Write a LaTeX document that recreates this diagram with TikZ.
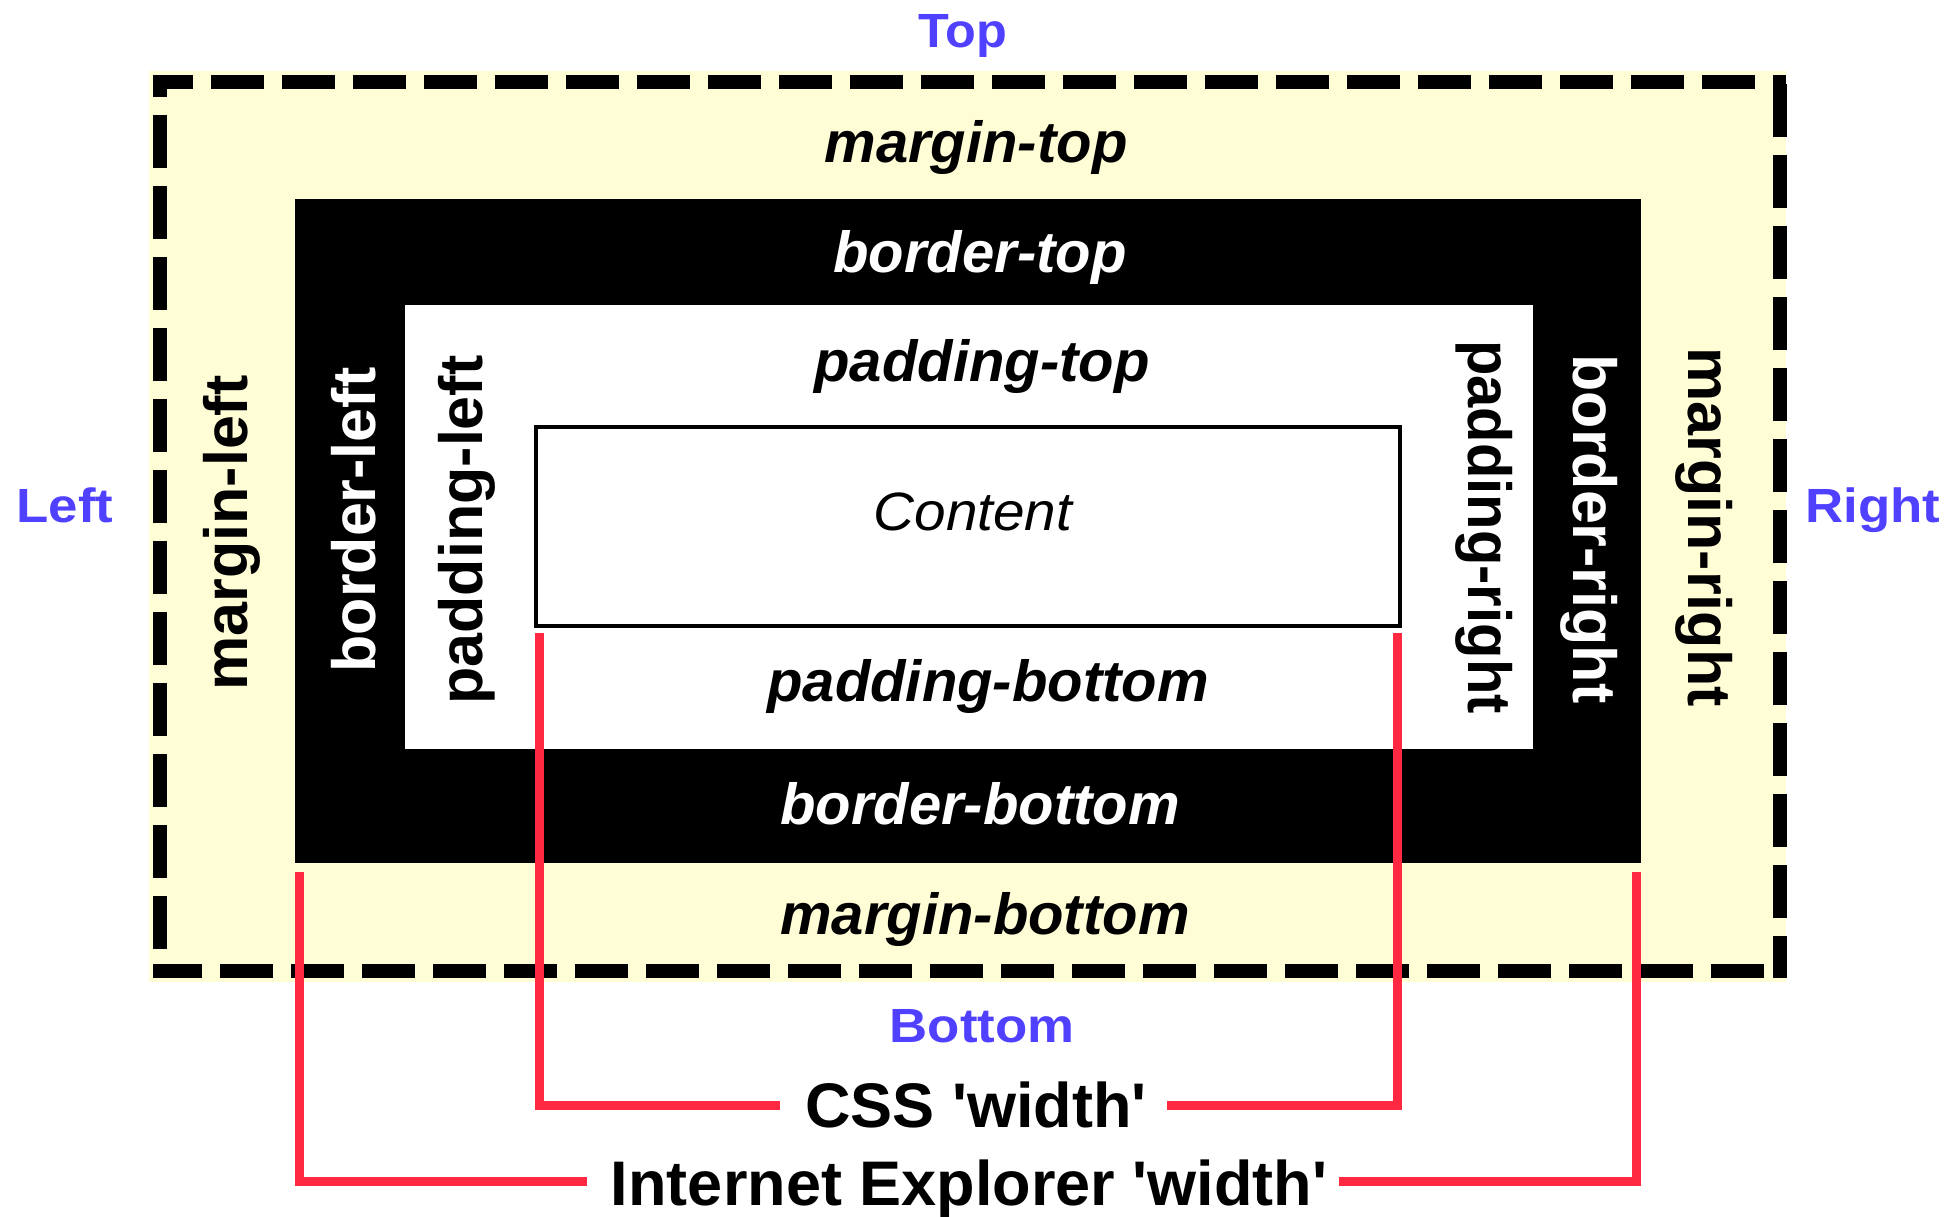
\documentclass[tikz,border=0pt]{standalone}
\usepackage{fontspec}
\usepackage{graphicx}
\setmainfont{Liberation Sans}[Ligatures=TeXOff]
\definecolor{marg}{RGB}{255,253,214}
\definecolor{redl}{RGB}{255,41,66}
\definecolor{bluel}{RGB}{80,64,255}
\tikzset{
 vlab/.style={font=\fontsize{61}{61}\selectfont\bfseries, inner sep=0pt, anchor=base},
 hlab/.style={font=\fontsize{58}{58}\selectfont\bfseries\itshape, inner sep=0pt, anchor=base},
 sidelab/.style={font=\fontsize{48}{48}\selectfont\bfseries, text=bluel, inner sep=0pt, anchor=base},
 wlab/.style={font=\fontsize{63}{63}\selectfont\bfseries, inner sep=0pt, anchor=base},
 redline/.style={draw=redl, line width=9pt},
 dashb/.style={line width=14pt, dash pattern=on 53pt off 18pt},
}
\begin{document}
\begin{tikzpicture}[x=1pt,y=-1pt]
\useasboundingbox (0,0) rectangle (1951,1217);
% boxes
\fill[marg] (149,71) rectangle (1786,982);
\fill[black] (295,199) rectangle (1641,863);
\fill[white] (405,305) rectangle (1533,749);
\draw[line width=4pt] (536,427) rectangle (1400,626);
% dashed margin edge
\draw[dashb, dash phase=13pt] (153,82) -- (1786,82);
\draw[dashb, dash phase=4pt] (153,971) -- (1786,971);
\draw[dashb, dash phase=31pt] (160,75) -- (160,978);
\draw[dashb, dash phase=62pt] (1779.5,75) -- (1779.5,978);
% side labels
\node[sidelab] (top) at (963,48) {\scalebox{1.05}[1]{Top}};
\node[sidelab] (left) at (65,522) {\scalebox{1.1}[1]{Left}};
\node[sidelab] (right) at (1873,522) {\scalebox{1.1}[1]{Right}};
\node[sidelab] (bottom) at (982,1042) {\scalebox{1.1}[1]{Bottom}};
% horizontal labels
\node[hlab] (mtop) at (976,163) {margin-top};
\node[hlab, text=white] (btop) at (980,272) {border-top};
\node[hlab] (ptop) at (982,381) {padding-top};
\node[inner sep=0pt, anchor=base, font=\fontsize{54}{54}\selectfont\itshape] (content) at (973,530) {\scalebox{1.05}[1]{Content}};
\node[hlab] (pbottom) at (988,701) {padding-bottom};
\node[hlab, text=white] (bbottom) at (980,824) {border-bottom};
\node[hlab] (mbottom) at (985,934) {margin-bottom};
% vertical labels
\node[vlab, rotate=90] (mleft) at (247,533) {margin-left};
\node[vlab, rotate=90, text=white] (bleft) at (375,520) {border-left};
\node[vlab, rotate=90] (pleft) at (482,530) {padding-left};
\node[vlab, rotate=-90] (pright) at (1468,527) {\scalebox{0.95}[1]{padding-right}};
\node[vlab, rotate=-90, text=white] (bright) at (1573,529) {border-right};
\node[vlab, rotate=-90] (mright) at (1688,527) {margin-right};
% width labels and brackets
\node[wlab] (css) at (976,1127) {CSS 'width'};
\node[wlab] (ie) at (969,1205) {Internet Explorer 'width'};
\coordinate (cssL) at (539,633);
\coordinate (cssR) at (1397.5,633);
\coordinate (cssLe) at (780,1105);
\coordinate (cssRe) at (1167,1105);
\coordinate (ieL) at (299.5,872);
\coordinate (ieR) at (1636,872);
\coordinate (ieLe) at (587,1181.5);
\coordinate (ieRe) at (1339,1181.5);
\draw[redline] (cssL) |- (cssLe);
\draw[redline] (cssR) |- (cssRe);
\draw[redline] (ieL) |- (ieLe);
\draw[redline] (ieR) |- (ieRe);
\end{tikzpicture}
\end{document}
